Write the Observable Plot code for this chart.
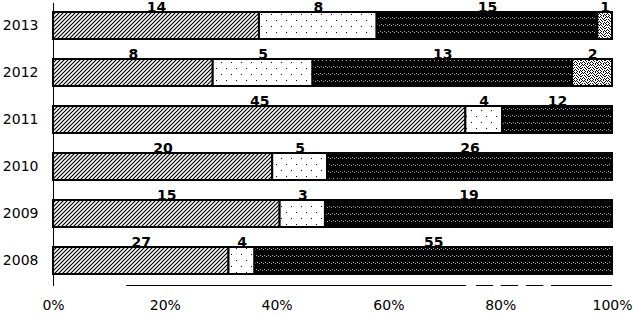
<!DOCTYPE html>
<html>
<head>
<meta charset="utf-8">
<script src="https://cdn.jsdelivr.net/npm/d3@7"></script>
<script src="https://cdn.jsdelivr.net/npm/@observablehq/plot@0.6"></script>
<style>
  html, body { margin: 0; padding: 0; background: #fff; }
</style>
</head>
<body>
<div id="chart"></div>
<script>
const years = ["2013", "2012", "2011", "2010", "2009", "2008"];
const series = ["Series 1", "Series 2", "Series 3", "Series 4"];
const series1 = [14, 8, 45, 20, 15, 27];
const series2 = [8, 5, 4, 5, 3, 4];
const series3 = [15, 13, 12, 26, 19, 55];
const series4 = [1, 2, 0, 0, 0, 0];
const xTicks = [0, 0.2, 0.4, 0.6, 0.8, 1];
const baseLineSegments = [[0.131, 0.739], [0.757, 0.787], [0.801, 0.832], [0.846, 0.877], [0.891, 1]];

const valuesBySeries = [series1, series2, series3, series4];
const data = [];
years.forEach((year, i) => {
  series.forEach((s, j) => {
    const v = valuesBySeries[j][i];
    if (v > 0) data.push({year, series: s, value: v});
  });
});

const patternIds = ["pat-hatch", "pat-dots", "pat-dark", "pat-speckle"];

const stackOpts = {x: "value", y: "year", order: null, offset: "normalize"};

const plot = Plot.plot({
  width: 633,
  height: 315,
  marginTop: 0,
  marginBottom: 29,
  marginLeft: 53,
  marginRight: 21,
  style: {fontFamily: "'DejaVu Sans', sans-serif", fontSize: "14px", color: "#000", background: "#fff"},
  x: {domain: [0, 1], ticks: xTicks, tickFormat: d => Math.round(d * 100) + "%", label: null},
  y: {domain: years, label: null, paddingInner: 0.417, paddingOuter: 0.238},
  color: {domain: series, range: patternIds.map(id => `url(#${id})`)},
  marks: [
    Plot.axisX({ticks: xTicks, tickSize: 0, tickPadding: 14, tickFormat: d => Math.round(d * 100) + "%", label: null, fontSize: 14}),
    Plot.axisY({tickSize: 0, tickPadding: 15, label: null, fontSize: 14}),
    Plot.barX(data, Plot.stackX({...stackOpts, fill: "series", stroke: "#000", strokeWidth: 2})),
    Plot.ruleX([0], {insetTop: 3, stroke: "#000", strokeWidth: 1}),
    Plot.text(data, Plot.stackX({...stackOpts, z: "series", text: d => String(d.value), lineAnchor: "bottom", dy: -14, fontWeight: "bold", fontSize: 14, fill: "#000"}))
  ]
});

// Pattern definitions (fills for the four series)
const svg = d3.select(plot);
const defs = svg.insert("defs", ":first-child");

// Series 1: diagonal hatch
const p1 = defs.append("pattern").attr("id", "pat-hatch").attr("patternUnits", "userSpaceOnUse").attr("width", 4).attr("height", 4);
p1.append("rect").attr("width", 4).attr("height", 4).attr("fill", "#fff");
p1.append("path").attr("d", "M-1,1 l2,-2 M0,4 l4,-4 M3,5 l2,-2").attr("stroke", "#000").attr("stroke-width", 1.2);

// Series 2: white with sparse dots
const p2 = defs.append("pattern").attr("id", "pat-dots").attr("patternUnits", "userSpaceOnUse").attr("width", 10).attr("height", 12);
p2.append("rect").attr("width", 10).attr("height", 12).attr("fill", "#fff");
p2.append("rect").attr("x", 1).attr("y", 2).attr("width", 1).attr("height", 1).attr("fill", "#000");
p2.append("rect").attr("x", 6).attr("y", 8).attr("width", 1).attr("height", 1).attr("fill", "#000");

// Series 3: black with light dotted rows
const p3 = defs.append("pattern").attr("id", "pat-dark").attr("patternUnits", "userSpaceOnUse").attr("width", 8).attr("height", 14);
p3.append("rect").attr("width", 8).attr("height", 14).attr("fill", "#000");
[[0, 3], [2, 4], [4, 3], [6, 4], [1, 10], [3, 11], [5, 10], [7, 11]].forEach(([x, y]) =>
  p3.append("rect").attr("x", x).attr("y", y).attr("width", 1).attr("height", 1).attr("fill", "#aaa"));

// Series 4: irregular speckle
const p4 = defs.append("pattern").attr("id", "pat-speckle").attr("patternUnits", "userSpaceOnUse").attr("width", 8).attr("height", 8);
p4.append("rect").attr("width", 8).attr("height", 8).attr("fill", "#fff");
[[0, 0], [3, 0], [6, 0], [1, 1], [5, 1], [7, 1], [2, 2], [4, 2], [0, 3], [3, 3], [6, 3],
 [1, 4], [5, 4], [7, 5], [2, 5], [4, 6], [0, 6], [6, 6], [3, 7], [1, 7], [5, 7], [4, 4]].forEach(([x, y]) =>
  p4.append("rect").attr("x", x).attr("y", y).attr("width", 1).attr("height", 1).attr("fill", "#000"));

// Broken baseline along the bottom of the frame, positioned via the x scale
const xs = plot.scale("x");
const yBottom = 315 - 29 - 0.5;
const g = svg.append("g").attr("stroke", "#000").attr("stroke-width", 1);
baseLineSegments.forEach(([a, b]) => {
  g.append("line").attr("x1", xs.apply(a)).attr("x2", xs.apply(b)).attr("y1", yBottom).attr("y2", yBottom);
});

document.getElementById("chart").appendChild(plot);
</script>
</body>
</html>
